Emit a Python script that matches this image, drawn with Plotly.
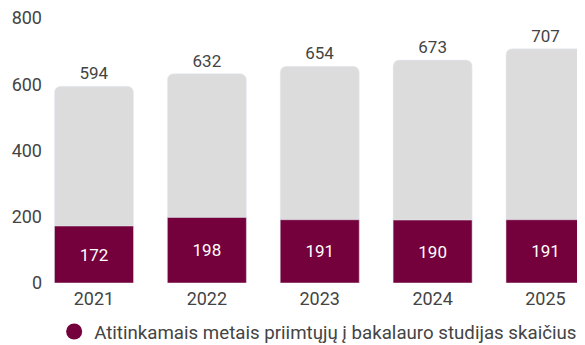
import plotly.graph_objects as go

years = ["2021", "2022", "2023", "2024", "2025"]
totals = [594, 632, 654, 673, 707]
accepted = [172, 198, 191, 190, 191]
legend_label = "Atitinkamais metais priimtųjų į bakalauro studijas skaičius"

GRAY = "#DCDCDC"
MAROON = "#74003C"
TEXT = "#444444"
FONT = "Roboto"

fig = go.Figure()
fig.add_trace(go.Bar(
    x=years, y=totals, marker=dict(color=GRAY, cornerradius=6),
    text=totals, textposition="outside", cliponaxis=False,
    textfont=dict(color=TEXT, size=17, family=FONT),
    width=0.7, showlegend=False, hoverinfo="skip"))
fig.add_trace(go.Bar(
    x=years, y=accepted, marker=dict(color=MAROON),
    text=accepted, textposition="inside", insidetextanchor="middle",
    textfont=dict(color="white", size=17, family=FONT),
    width=0.7, showlegend=False, hoverinfo="skip"))
fig.add_trace(go.Scatter(
    x=[None], y=[None], mode="markers", name=legend_label,
    marker=dict(color=MAROON, size=20, symbol="circle")))

# the page body has an 8px default margin, so the figure is sized to fit the window
fig.update_layout(
    width=577, height=337,
    barmode="overlay",
    margin=dict(l=37, r=0, t=10, b=62, autoexpand=False),
    paper_bgcolor="white", plot_bgcolor="white",
    font=dict(family=FONT, color=TEXT, size=18),
    uniformtext=dict(mode=False),
    legend=dict(orientation="h", xref="container", yref="container",
                x=0.08, xanchor="left", y=0.039, yanchor="middle",
                font=dict(size=18.7, color=TEXT, family=FONT), itemsizing="trace"),
    xaxis=dict(type="category", range=[-0.434, 4.35], showgrid=False, showline=False,
               ticks="", tickfont=dict(size=18), ticklabelstandoff=3,
               ticklabeloverflow="allow"),
    yaxis=dict(range=[0, 800], tickvals=[0, 200, 400, 600, 800], showgrid=False,
               showline=False, zeroline=False, ticks="", tickfont=dict(size=18),
               ticklabelstandoff=2, ticklabeloverflow="allow"),
)

fig.write_html("out.html")
